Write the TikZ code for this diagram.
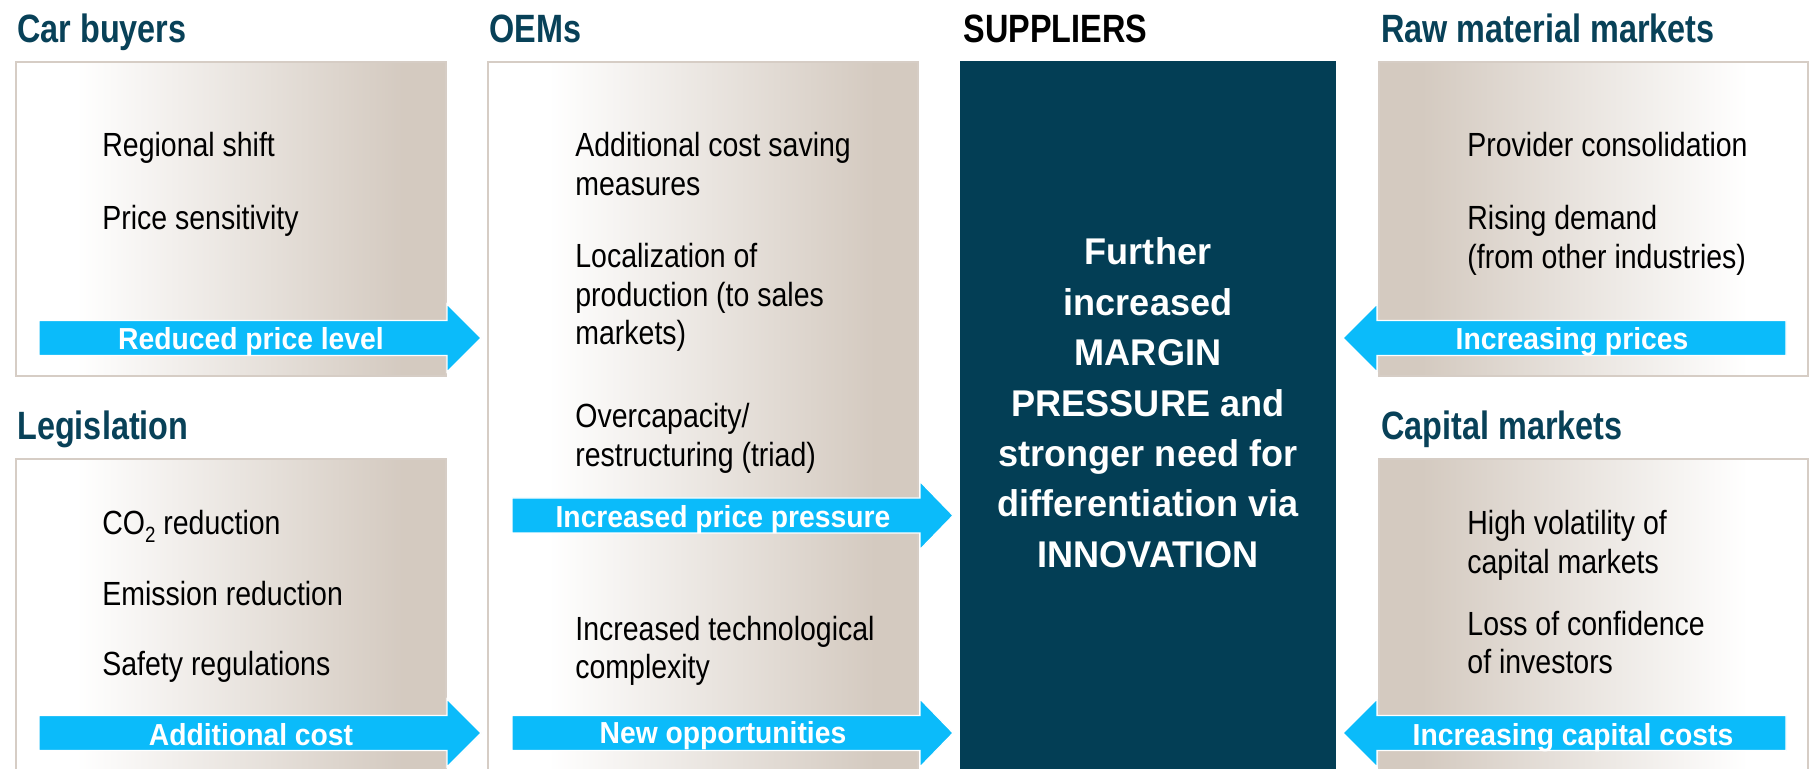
\documentclass[tikz,border=0pt]{standalone}
\usepackage{fontspec}
\setmainfont{Liberation Sans}
\newfontfamily\titlefont{Liberation Sans}[FakeStretch=0.82]
\newfontfamily\itemfont{Liberation Sans}[FakeStretch=0.85]
\newfontfamily\arrowfont{Liberation Sans}[FakeStretch=0.93]
\newfontfamily\centerfont{Liberation Sans}[FakeStretch=0.97]
\definecolor{titleblue}{RGB}{8,65,88}
\definecolor{supblue}{RGB}{3,62,85}
\definecolor{arrowcyan}{RGB}{11,187,250}
\definecolor{boxtan}{RGB}{212,202,192}
\definecolor{boxborder}{RGB}{214,205,197}
\pgfdeclarehorizontalshading{boxLR}{100bp}{color(0bp)=(white); color(32bp)=(white); color(70bp)=(boxtan); color(100bp)=(boxtan)}
\pgfdeclarehorizontalshading{boxRL}{100bp}{color(0bp)=(boxtan); color(30bp)=(boxtan); color(68bp)=(white); color(100bp)=(white)}
\newcommand\itemlines[1]{\parbox[t]{150pt}{\raggedright #1}}
\newcommand\RArrowShape[4]{% shaft start x, head base x, tip x, centre y
  \path[blockarrow] ({#1},{#4-17.5}) -- ({#2},{#4-17.5}) -- ({#2},{#4-34}) -- ({#3},{#4}) -- ({#2},{#4+34}) -- ({#2},{#4+17.5}) -- ({#1},{#4+17.5}) -- cycle;}
\tikzset{
  paneltitle/.style={anchor=base west, inner sep=0pt, font=\titlefont\bfseries\fontsize{19.75pt}{22pt}\selectfont, text=titleblue},
  itemtext/.style={anchor=base west, inner sep=0pt, font=\itemfont\fontsize{16.75pt}{19.25pt}\selectfont, text=black},
  arrowlabel/.style={anchor=base, inner sep=0pt, font=\arrowfont\bfseries\fontsize{15.2pt}{17pt}\selectfont, text=white},
  centertext/.style={anchor=base, inner sep=0pt, font=\centerfont\bfseries\fontsize{18.6pt}{25.2pt}\selectfont, text=white},
  panelLR/.style={shade, shading=boxLR, draw=boxborder, line width=0.6pt},
  panelRL/.style={shade, shading=boxRL, draw=boxborder, line width=0.6pt},
  blockarrow/.style={fill=arrowcyan, draw=white, line width=0.6pt, line join=miter},
}
\begin{document}
\begin{tikzpicture}[x=0.5pt, y=-0.5pt]
\useasboundingbox (0,0) rectangle (1809,769);
\clip (0,0) rectangle (1809,769);
\fill[white] (0,0) rectangle (1809,769);

% panels
\path[panelLR] (16,62) rectangle (446,376);
\path[panelLR] (16,459) rectangle (446,790);
\path[panelLR] (488,62) rectangle (918,790);
\fill[supblue] (960,61) rectangle (1336,790);
\path[panelRL] (1379,62) rectangle (1808,376);
\path[panelRL] (1379,459) rectangle (1808,790);

% titles
\node[paneltitle] (tcar) at (17,43) {Car buyers};
\node[paneltitle] (tleg) at (17,440) {Legislation};
\node[paneltitle] (toem) at (489,43) {OEMs};
\node[paneltitle, text=black] (tsup) at (963,43) {SUPPLIERS};
\node[paneltitle] (traw) at (1381,43) {Raw material markets};
\node[paneltitle] (tcap) at (1381,440) {Capital markets};

% items
\node[itemtext] (c1) at (102,157) {\itemlines{Regional shift}};
\node[itemtext] (c2) at (102,230) {\itemlines{Price sensitivity}};
\node[itemtext] (l1) at (102,535) {\itemlines{CO\raisebox{-0.22em}{\fontsize{11pt}{11pt}\selectfont 2} reduction}};
\node[itemtext] (l2) at (102,605) {\itemlines{Emission reduction}};
\node[itemtext] (l3) at (102,675) {\itemlines{Safety regulations}};
\node[itemtext] (o1) at (575,157) {\itemlines{Additional cost saving\\measures}};
\node[itemtext] (o2) at (575,268) {\itemlines{Localization of\\production (to sales\\markets)}};
\node[itemtext] (o3) at (575,428) {\itemlines{Overcapacity/\\restructuring (triad)}};
\node[itemtext] (o4) at (575,640) {\itemlines{Increased technological\\complexity}};
\node[itemtext] (r1) at (1467,157) {\itemlines{Provider consolidation}};
\node[itemtext] (r2) at (1467,230) {\itemlines{Rising demand\\(from other industries)}};
\node[itemtext] (k1) at (1467,535) {\itemlines{High volatility of\\capital markets}};
\node[itemtext] (k2) at (1467,635) {\itemlines{Loss of confidence\\of investors}};

% block arrows
\RArrowShape{39}{447}{481}{338}
\RArrowShape{39}{447}{481}{733}
\RArrowShape{512}{920}{953}{515.5}
\RArrowShape{512}{920}{953}{733}
\RArrowShape{1786}{1377}{1343}{338}
\RArrowShape{1786}{1377}{1343}{733}

% arrow labels
\node[arrowlabel] (a1) at (251,350) {Reduced price level};
\node[arrowlabel] (a2) at (251,745) {Additional cost};
\node[arrowlabel] (a3) at (723,528) {Increased price pressure};
\node[arrowlabel] (a4) at (723,743) {New opportunities};
\node[arrowlabel] (a5) at (1572,350) {Increasing prices};
\node[arrowlabel] (a6) at (1573,745) {Increasing capital costs};

% supplier statement
\node[centertext] (msg) at (1148,265) {\parbox[t]{180pt}{\centering Further\\increased\\MARGIN\\PRESSURE and\\stronger need for\\differentiation via\\INNOVATION}};
\end{tikzpicture}
\end{document}
